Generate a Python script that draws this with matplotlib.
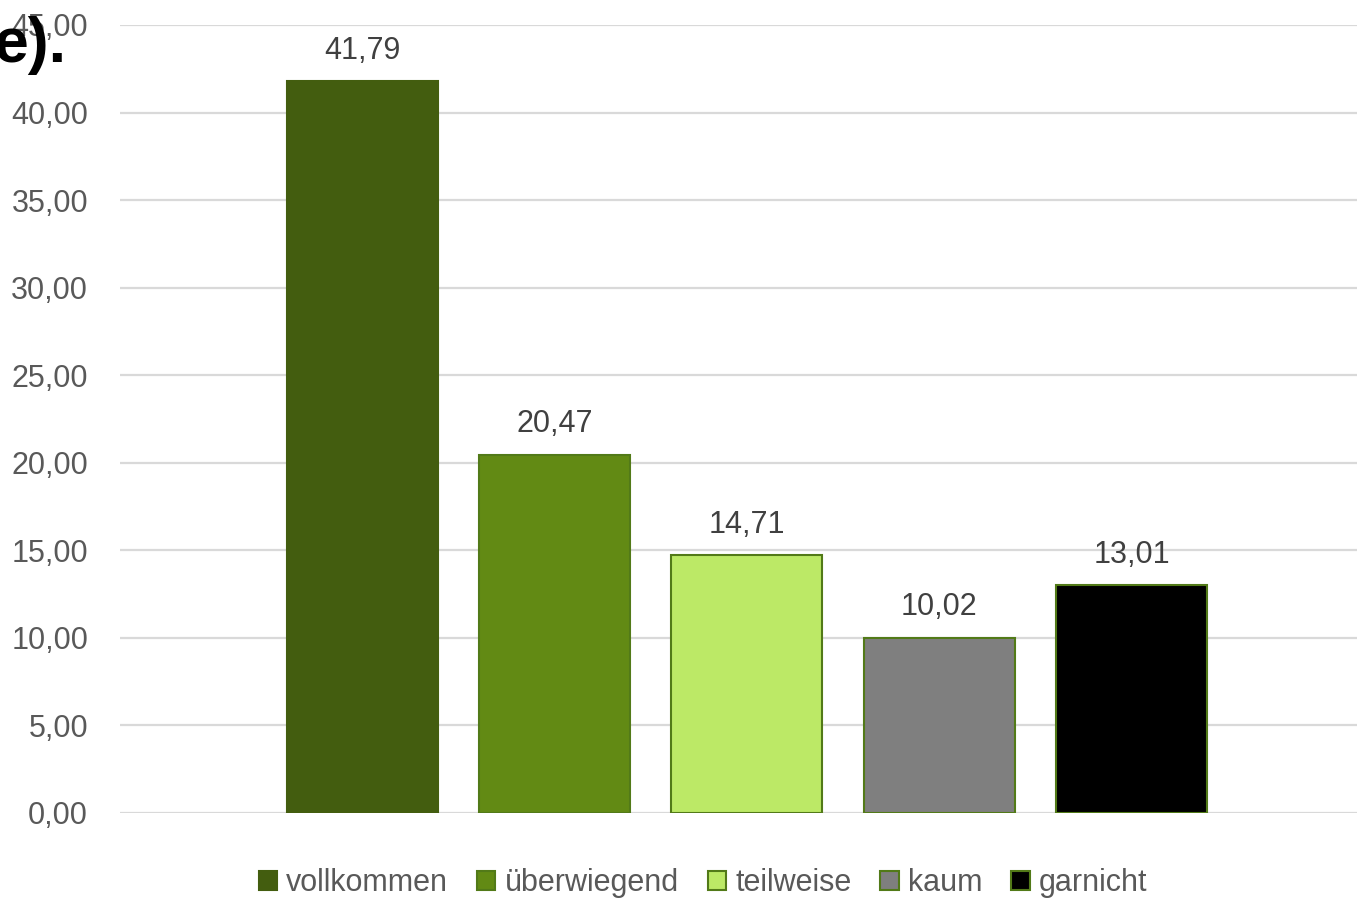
import matplotlib
matplotlib.use("Agg")
import matplotlib.pyplot as plt
from matplotlib.patches import Patch

categories = ["vollkommen", "überwiegend", "teilweise", "kaum", "garnicht"]
values = [41.79, 20.47, 14.71, 10.02, 13.01]
colors = ["#435D0F", "#628A14", "#BCE966", "#7F7F7F", "#000000"]
edge = "#527A18"
yticks = [0, 5, 10, 15, 20, 25, 30, 35, 40, 45]

plt.rcParams['font.family'] = ['Liberation Sans', 'DejaVu Sans']

fig = plt.figure(figsize=(13.57, 9.01), dpi=100)
ax = fig.add_axes([120/1357, 88/901, 1 - 120/1357, (813-25)/901])

x = list(range(len(values)))
ax.bar(x, values, width=0.785, color=colors, edgecolor=[colors[0], edge, edge, edge, edge],
       linewidth=1.5, zorder=3)
for xi, v in zip(x, values):
    ax.annotate(f"{v:.2f}".replace(".", ","), (xi, v), xytext=(0, 11), textcoords="offset points",
                ha="center", va="bottom", fontsize=22, color="#404040")

ax.set_xlim(-1.258, 5.17)
ax.set_ylim(0, 45)
ax.set_yticks(yticks)
ax.set_yticklabels([f"{t:.2f}".replace(".", ",") for t in yticks], fontsize=22, color="#595959")
ax.set_xticks([])
ax.tick_params(axis="y", length=0, pad=23)
ax.grid(axis="y", color="#D9D9D9", linewidth=1.6, zorder=0)
for s in ax.spines.values():
    s.set_visible(False)

handles = [Patch(facecolor=c, edgecolor=edge if i > 0 else c, linewidth=1.5) for i, c in enumerate(colors)]
fig.legend(handles, categories, loc="center", bbox_to_anchor=(703/1357, 1 - 883/901), ncol=5,
           frameon=False, fontsize=22, labelcolor="#595959", handlelength=0.6, handleheight=0.6,
           handletextpad=0.3, columnspacing=0.95)

fig.text(66/1357, 1 - 62/901, "e).", ha="right", va="baseline", fontsize=45, fontweight="bold",
         family=['Liberation Sans', 'DejaVu Sans'], color="black")

fig.savefig("out.png", dpi=100)
